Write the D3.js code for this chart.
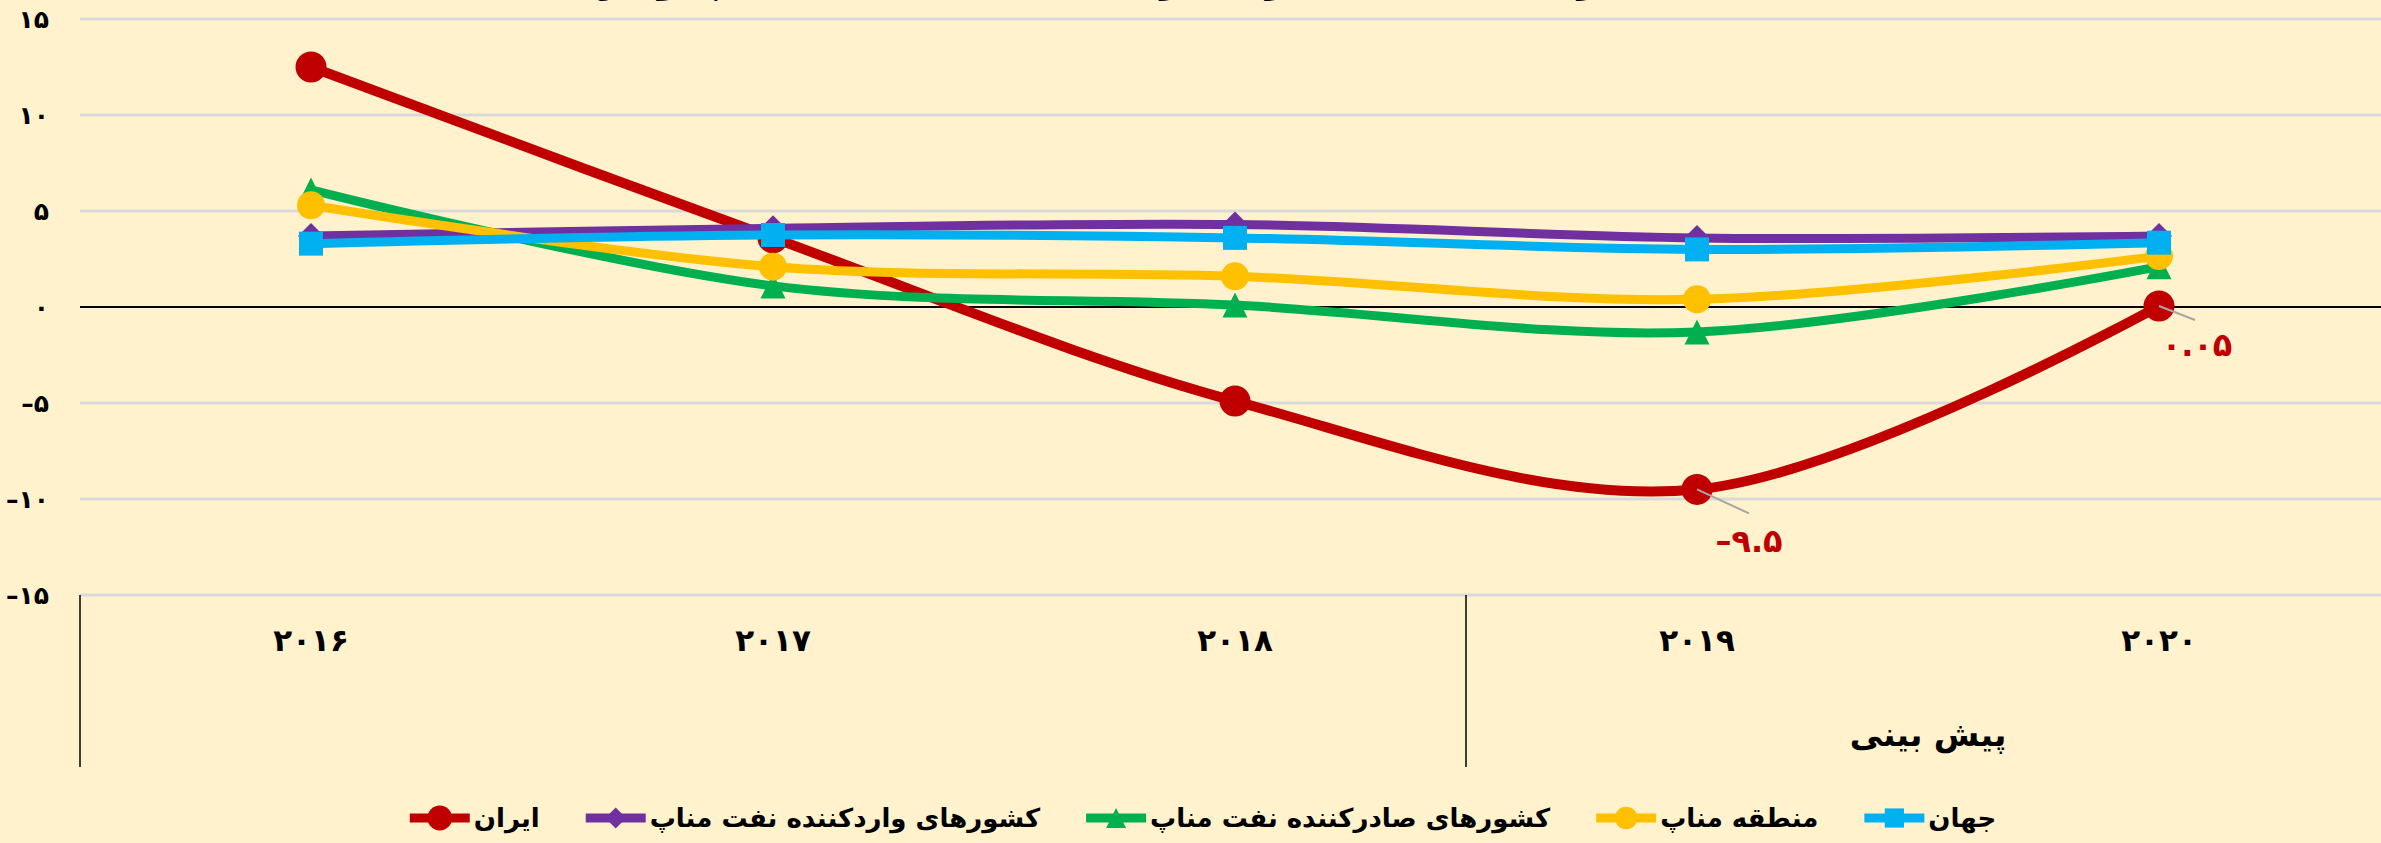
<!DOCTYPE html>
<html><head><meta charset="utf-8">
<script src="https://cdn.jsdelivr.net/npm/d3@7"></script>
<style>
body{margin:0;background:#FFF2CC;}
svg{display:block;font-family:"DejaVu Sans",sans-serif;font-weight:bold;}
</style>
</head><body>
<svg id="c" width="2381" height="843"></svg>
<script>
// ---- data ----
const years = ["2016","2017","2018","2019","2020"];
const iran      = [12.5, 3.6, -4.9, -9.5, 0.05];
const importers = [3.7, 4.1, 4.3, 3.6, 3.7];
const exporters = [6.1, 1.1, 0.1, -1.3, 2.1];
const menap     = [5.3, 2.1, 1.6, 0.4, 2.65];
const world     = [3.3, 3.75, 3.6, 3.0, 3.35];
const seriesNames = ["ایران","کشورهای واردکننده نفت مناپ","کشورهای صادرکننده نفت مناپ","منطقه مناپ","جهان"];
const yTicks = [-15,-10,-5,0,5,10,15];
const forecastYears = ["2019","2020"];
const forecastLabel = "پیش بینی";
const iranLabelYears = ["2019","2020"];
const titleText = "رشد اقتصادی ایران در مقایسه با منطقه مناپ و جهان";

// ---- styles ----
const colors = ["#C00000","#7030A0","#00B050","#FFC000","#00B0F0"];
const shapes = ["circle","diamond","triangle","circle","square"];
const values = [iran, importers, exporters, menap, world];

const fa = v => String(v).replace(/\d/g, d => "۰۱۲۳۴۵۶۷۸۹"[+d]).replace("-", "–");

const W = 2381, H = 843;
const svg = d3.select("#c");
svg.append("rect").attr("width", W).attr("height", H).attr("fill", "#FFF2CC");

const x = d3.scaleBand().domain(years).range([80, 2390]);
const y = d3.scaleLinear().domain([-15, 15]).range([595, 19]);
const cx = d => x(d) + x.bandwidth() / 2;

// title (mostly cropped at the top edge, as in the reference)
svg.append("text").attr("x", 1070).attr("y", -9).attr("text-anchor", "middle")
  .attr("font-size", 40).attr("fill", "#000").text(titleText);

// gridlines
svg.append("g").selectAll("line").data(yTicks.filter(t => t !== 0)).join("line")
  .attr("x1", 80).attr("x2", W).attr("y1", d => y(d)).attr("y2", d => y(d))
  .attr("stroke", "#D9D9D9").attr("stroke-width", 3);
// zero axis
svg.append("line").attr("x1", 80).attr("x2", W).attr("y1", y(0)).attr("y2", y(0))
  .attr("stroke", "#000").attr("stroke-width", 2);

// y tick labels
svg.append("g").selectAll("text").data(yTicks).join("text")
  .attr("x", 49).attr("y", d => y(d)).attr("dy", "0.35em")
  .attr("text-anchor", "end").attr("font-size", 25).attr("fill", "#000")
  .text(d => fa(d));

// category axis (multi-level)
const axisG = svg.append("g");
const bounds = [x(years[0]), x(forecastYears[0]), x(years[years.length-1]) + x.bandwidth()];
axisG.selectAll("line").data(bounds).join("line")
  .attr("x1", d => d).attr("x2", d => d).attr("y1", y(-15)).attr("y2", 767)
  .attr("stroke", "#000").attr("stroke-width", 1.5);
axisG.selectAll("text.yr").data(years).join("text").attr("class", "yr")
  .attr("x", d => cx(d)).attr("y", 640).attr("dy", "0.35em")
  .attr("text-anchor", "middle").attr("font-size", 31).attr("letter-spacing", 3).attr("fill", "#000")
  .text(d => fa(d));
const fStart = x(forecastYears[0]), fEnd = x(forecastYears[forecastYears.length-1]) + x.bandwidth();
axisG.append("text").attr("x", (fStart + fEnd) / 2).attr("y", 734).attr("dy", "0.35em")
  .attr("text-anchor", "middle").attr("font-size", 33).attr("fill", "#000").text(forecastLabel);

// marker drawing
function marker(g, shape, color, size) {
  const s = size;
  if (shape === "circle") return g.append("circle").attr("r", s / 2).attr("fill", color);
  if (shape === "square") return g.append("rect").attr("x", -s/2).attr("y", -s/2).attr("width", s).attr("height", s).attr("fill", color);
  if (shape === "triangle") return g.append("path").attr("d", `M0,${-s/2}L${s/2},${s/2}L${-s/2},${s/2}Z`).attr("fill", color);
  if (shape === "diamond") return g.append("path").attr("d", `M0,${-s/2}L${s/2},0L0,${s/2}L${-s/2},0Z`).attr("fill", color);
}
const mSize = [31, 26, 25, 28, 24];
const lWidth = [10, 9, 9, 9, 9];

const line = d3.line().x(d => cx(d.year)).y(d => y(d.v)).curve(d3.curveCatmullRom.alpha(0.5));
values.forEach((vals, i) => {
  const data = years.map((yr, j) => ({year: yr, v: vals[j]}));
  const g = svg.append("g");
  g.append("path").datum(data).attr("d", line).attr("fill", "none")
    .attr("stroke", colors[i]).attr("stroke-width", lWidth[i]).attr("stroke-linejoin", "round");
  data.forEach(d => {
    const mg = g.append("g").attr("transform", `translate(${cx(d.year)},${y(d.v)})`);
    marker(mg, shapes[i], colors[i], mSize[i]);
  });
});

// Iran data labels
const labOff = {"2019": [52, 24, 52, 51], "2020": [36, 14, 38, 39]};
iranLabelYears.forEach(yr => {
  const j = years.indexOf(yr);
  const px = cx(yr), py = y(iran[j]);
  const o = labOff[yr];
  svg.append("line").attr("x1", px).attr("y1", py).attr("x2", px + o[0]).attr("y2", py + o[1])
    .attr("stroke", "#A6A6A6").attr("stroke-width", 2);
  svg.append("text").attr("x", px + o[2]).attr("y", py + o[3]).attr("dy", "0.35em")
    .attr("text-anchor", "middle").attr("font-size", 32).attr("fill", colors[0])
    .text(fa(iran[j]));
});

// legend
const legG = svg.append("g");
const items = seriesNames.map((n, i) => {
  const ig = legG.append("g");
  ig.append("line").attr("x1", 0).attr("x2", 60).attr("y1", 0).attr("y2", 0)
    .attr("stroke", colors[i]).attr("stroke-width", 9);
  const mg = ig.append("g").attr("transform", "translate(30,0)");
  marker(mg, shapes[i], colors[i], mSize[i] * 0.8);
  const t = ig.append("text").attr("x", 64).attr("y", 0).attr("dy", "0.35em")
    .attr("font-size", 26).attr("fill", "#000").text(n);
  return {g: ig, w: 64 + t.node().getComputedTextLength()};
});
const gap = 46;
const total = d3.sum(items, d => d.w) + gap * (items.length - 1);
let lx = 1203 - total / 2;
items.forEach(it => { it.g.attr("transform", `translate(${lx},818)`); lx += it.w + gap; });
</script>
</body></html>
